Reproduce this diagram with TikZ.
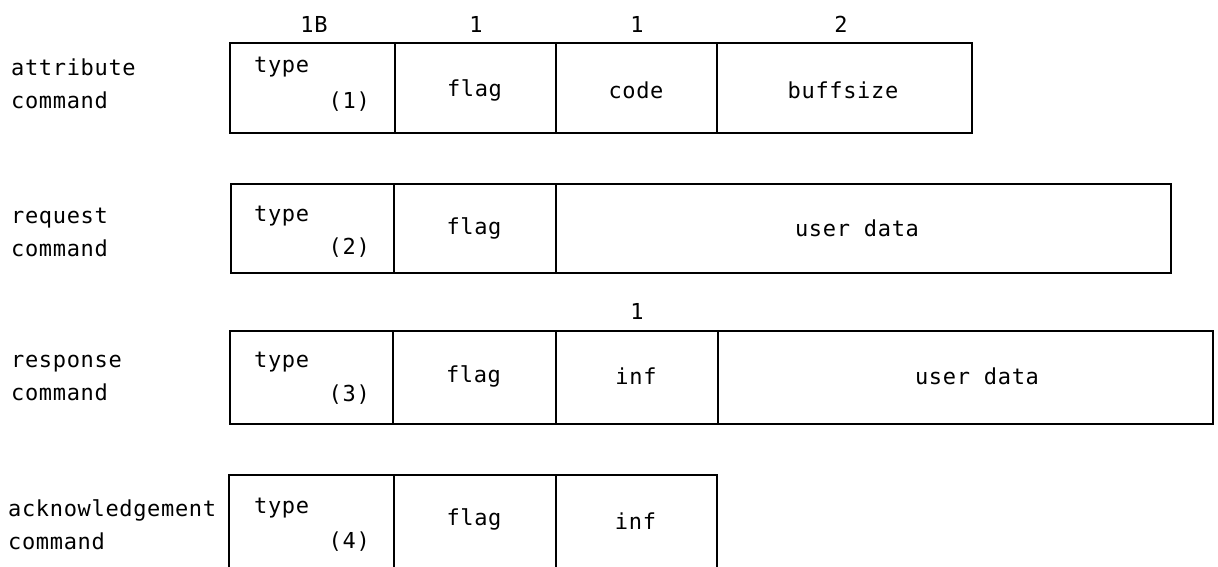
\documentclass[tikz,border=0pt]{standalone}
\usepackage{fontspec}
\setmainfont{DejaVu Sans Mono}[LetterSpace=3]
\begin{document}
\begin{tikzpicture}[x=1pt,y=-1pt,
  cell/.style={draw=black, line width=2pt, inner sep=0pt, anchor=north west},
  txt/.style={inner sep=0pt, font=\fontsize{22}{26}\selectfont},
  lbl/.style={txt, anchor=west, align=left, font=\fontsize{22}{33}\selectfont}]
\useasboundingbox (0,0) rectangle (1218,567);
\clip (0,0) rectangle (1218,567);
% Row 1: attribute command
\node[lbl] (l1) at (11,84) {attribute\\command};
\node[cell, minimum width=165pt, minimum height=90pt] (a1) at (229,42) {};
\node[cell, minimum width=161pt, minimum height=90pt] (a2) at (394,42) {};
\node[cell, minimum width=161pt, minimum height=90pt] (a3) at (555,42) {};
\node[cell, minimum width=255pt, minimum height=90pt] (a4) at (716,42) {};
\node[txt, anchor=west] (a1t) at (254,67) {type};
\node[txt, anchor=east] (a1n) at (370,102) {(1)};
\node[txt] (a2t) at (474.5,90) {flag};
\node[txt] (a3t) at (636,90) {code};
\node[txt] (a4t) at (843,90) {buffsize};
\node[txt] (s1) at (314,24) {1B};
\node[txt] (s2) at (476,24) {1};
\node[txt] (s3) at (637,24) {1};
\node[txt] (s4) at (841,24) {2};
% Row 2: request command
\node[lbl] (l2) at (11,232) {request\\command};
\node[cell, minimum width=163pt, minimum height=89pt] (b1) at (230,183) {};
\node[cell, minimum width=162pt, minimum height=89pt] (b2) at (393,183) {};
\node[cell, minimum width=615pt, minimum height=89pt] (b3) at (555,183) {};
\node[txt, anchor=west] (b1t) at (254,216) {type};
\node[txt, anchor=east] (b1n) at (370,248) {(2)};
\node[txt] (b2t) at (474,228) {flag};
\node[txt] (b3t) at (857,228) {user data};
% Row 3: response command
\node[lbl] (l3) at (11,378) {response\\command};
\node[cell, minimum width=163pt, minimum height=93pt] (c1) at (229,330) {};
\node[cell, minimum width=163pt, minimum height=93pt] (c2) at (392,330) {};
\node[cell, minimum width=162pt, minimum height=93pt] (c3) at (555,330) {};
\node[cell, minimum width=495pt, minimum height=93pt] (c4) at (717,330) {};
\node[txt, anchor=west] (c1t) at (254,362) {type};
\node[txt, anchor=east] (c1n) at (370,395) {(3)};
\node[txt] (c2t) at (473.5,376) {flag};
\node[txt] (c3t) at (636,376) {inf};
\node[txt] (c4t) at (977,376) {user data};
\node[txt] (s5) at (637,311) {1};
% Row 4: acknowledgement command
\node[lbl] (l4) at (8,525) {acknowledgement\\command};
\node[cell, minimum width=165pt, minimum height=96pt] (d1) at (228,474) {};
\node[cell, minimum width=162pt, minimum height=96pt] (d2) at (393,474) {};
\node[cell, minimum width=161pt, minimum height=96pt] (d3) at (555,474) {};
\node[txt, anchor=west] (d1t) at (254,508) {type};
\node[txt, anchor=east] (d1n) at (370,542) {(4)};
\node[txt] (d2t) at (474,519) {flag};
\node[txt] (d3t) at (635.5,521) {inf};
\end{tikzpicture}
\end{document}
